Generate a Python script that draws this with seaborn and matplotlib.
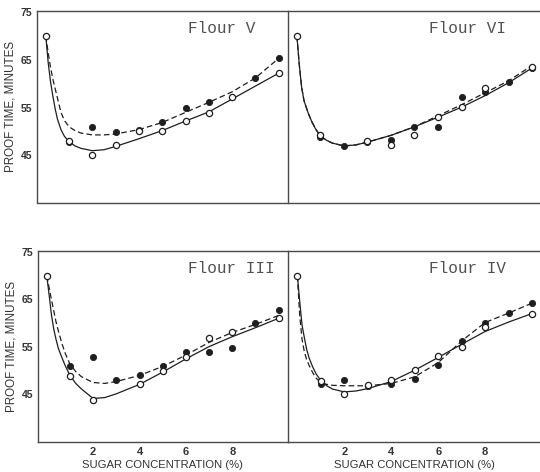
import matplotlib
matplotlib.use("Agg")
import matplotlib.pyplot as plt
import numpy as np
import pandas as pd
import seaborn as sns

sns.set_theme(style="white")
plt.rcParams["font.family"] = ["Liberation Sans", "DejaVu Sans"]

# Sugar concentration (%) at which the fitted curves are traced
CURVE_X = [0, 0.1, 0.2, 0.3, 0.4, 0.5, 0.65, 0.8, 1.0, 1.25, 1.5,
           2, 2.5, 3, 4, 5, 6, 7, 8, 9, 10]

# ---- Flour V ----
V_SOLID = [70, 64.5, 60.5, 57.5, 54.8, 52.6, 50.4, 49.0, 47.9, 47.0, 46.5,
           46.0, 46.2, 46.9, 48.5, 50.2, 52.2, 54.1, 56.8, 59.5, 62.2]
V_DASHED = [70, 66.5, 63.5, 61.0, 59.0, 57.0, 54.0, 52.3, 51.0, 50.2, 49.7,
            49.3, 49.3, 49.5, 50.4, 51.9, 54.0, 56.1, 58.3, 61.2, 65.3]
V_OPEN_X = [0, 1, 2, 3, 4, 5, 6, 7, 8, 10]
V_OPEN_Y = [70, 48.1, 45.0, 47.1, 50.1, 50.1, 52.2, 53.9, 57.2, 62.2]
V_FILLED_X = [1, 2, 3, 4, 5, 6, 7, 9, 10]
V_FILLED_Y = [47.8, 50.9, 50.0, 50.4, 51.9, 55.0, 56.2, 61.2, 65.3]

# ---- Flour VI ----
VI_SOLID = [70, 64.0, 59.3, 56.5, 55.0, 53.6, 51.9, 50.5, 49.1, 48.2, 47.6,
            47.0, 47.2, 47.8, 49.2, 51.0, 53.0, 55.1, 57.5, 60.2, 63.3]
VI_DASHED = [70, 64.0, 59.3, 56.5, 55.0, 53.6, 51.9, 50.5, 49.1, 48.2, 47.6,
             47.0, 47.2, 47.8, 49.2, 51.0, 53.3, 55.6, 58.1, 60.6, 63.8]
VI_OPEN_X = [0, 1, 3, 4, 5, 6, 7, 8, 10]
VI_OPEN_Y = [70, 49.2, 48.1, 47.1, 49.2, 53.1, 55.1, 59.1, 63.4]
VI_FILLED_X = [1, 2, 3, 4, 5, 6, 7, 8, 9, 10]
VI_FILLED_Y = [48.9, 46.9, 47.9, 48.3, 51.0, 51.0, 57.3, 58.2, 60.3, 63.2]

# ---- Flour III ----
III_SOLID = [70, 66.0, 61.8, 58.7, 56.5, 54.6, 52.7, 50.9, 48.9, 47.2, 46.0,
             44.0, 44.2, 45.0, 47.0, 49.6, 52.4, 55.0, 57.1, 59.0, 61.0]
III_DASHED = [70, 67.5, 65.0, 62.6, 60.2, 58.3, 55.7, 53.5, 51.3, 49.7, 48.6,
              47.4, 47.2, 47.6, 48.9, 50.8, 53.2, 55.9, 58.0, 59.7, 61.6]
III_OPEN_X = [0, 1, 2, 4, 5, 6, 7, 8, 10]
III_OPEN_Y = [70, 48.8, 43.7, 47.0, 49.9, 52.7, 56.9, 58.0, 61.0]
III_FILLED_X = [1, 2, 3, 4, 5, 6, 7, 8, 9, 10]
III_FILLED_Y = [50.9, 52.7, 47.9, 48.9, 50.8, 53.8, 53.8, 54.8, 59.9, 62.7]

# ---- Flour IV ----
IV_SOLID = [70, 64.5, 59.5, 56.8, 54.3, 52.6, 50.7, 49.2, 47.8, 46.7, 46.0,
            45.4, 45.6, 46.1, 47.6, 50.0, 52.7, 55.5, 58.2, 60.2, 62.0]
IV_DASHED = [70, 61.5, 56.5, 53.8, 52.2, 51.0, 49.5, 48.3, 47.4, 47.0, 46.8,
             46.7, 46.7, 46.7, 47.2, 48.6, 51.6, 56.2, 60.1, 62.1, 64.2]
IV_OPEN_X = [0, 1, 2, 3, 4, 5, 6, 7, 8, 10]
IV_OPEN_Y = [70, 47.8, 44.9, 46.9, 48.0, 50.1, 53.0, 55.0, 59.2, 62.0]
IV_FILLED_X = [1, 2, 3, 4, 5, 6, 7, 8, 9, 10]
IV_FILLED_Y = [47.0, 48.0, 46.7, 47.0, 48.1, 51.0, 56.1, 60.1, 62.1, 64.2]

X_TICKS = [2, 4, 6, 8]
Y_TICKS = [45, 55, 65, 75]
Y_LABEL = "PROOF TIME, MINUTES"
X_LABEL = "SUGAR CONCENTRATION (%)"

INK = "#1e1e1e"
FRAME = "#4a4a4a"
LABEL_INK = "#333333"
W, H = 540, 472

fig = plt.figure(figsize=(W / 100, H / 100), dpi=100)
fig.patch.set_facecolor("white")


def box(left, right, top, bottom):
    return [left / W, 1 - bottom / H, (right - left) / W, (bottom - top) / H]


def draw_panel(rect, ylim, title, title_x, solid, dashed,
               ox, oy, fx, fy, left_col, bottom_row):
    ax = fig.add_axes(rect)
    ax.set_facecolor("white")
    curves = pd.DataFrame({"x": CURVE_X, "solid": solid, "dashed": dashed})
    sns.lineplot(data=curves, x="x", y="dashed", ax=ax, color=INK,
                 linewidth=0.9, linestyle=(0, (4.5, 2.5)),
                 estimator=None, sort=False)
    sns.lineplot(data=curves, x="x", y="solid", ax=ax, color=INK,
                 linewidth=0.9, estimator=None, sort=False)
    sns.scatterplot(x=fx, y=fy, ax=ax, s=20, color=INK,
                    edgecolor=INK, linewidth=0.6, zorder=3)
    sns.scatterplot(x=ox, y=oy, ax=ax, s=20, facecolor="white",
                    edgecolor=INK, linewidth=0.9, zorder=4)
    ax.set_xlim(-0.4, 10.38)
    ax.set_ylim(*ylim)
    ax.set_xticks(X_TICKS)
    ax.set_yticks(Y_TICKS)
    ax.set_xlabel("")
    ax.set_ylabel("")
    for sp in ax.spines.values():
        sp.set_color(FRAME)
        sp.set_linewidth(1.0)
    ax.spines["right"].set_visible(False)
    ax.tick_params(axis="x", direction="in", length=3, width=0.8,
                   color=FRAME, labelsize=8, labelcolor=LABEL_INK, pad=4,
                   labelbottom=bottom_row)
    if left_col:
        ax.tick_params(axis="y", direction="out", length=2.5, width=0.8,
                       color=FRAME, labelsize=7.5, labelcolor=LABEL_INK,
                       pad=0.5)
        for lab in ax.get_yticklabels():
            lab.set_fontweight("bold")
        ax.set_ylabel(Y_LABEL, fontsize=8.4, color=LABEL_INK)
        ax.yaxis.set_label_coords(-0.078, 0.5)
    else:
        ax.tick_params(axis="y", direction="in", length=4, width=0.8,
                       color=FRAME, labelleft=False)
    for lab in ax.get_xticklabels():
        lab.set_fontweight("bold")
    ax.text(title_x, 71.6, title, family=["Liberation Mono", "DejaVu Sans Mono"],
            fontsize=11.5, color="#505050", ha="left", va="center")
    if bottom_row:
        ax.set_xlabel(X_LABEL, fontsize=8.1, color=LABEL_INK, labelpad=2)
    return ax


TOP_Y = (35.17, 75.2)
BOT_Y = (34.9, 75.35)

draw_panel(box(36.5, 287.5, 11, 202.5), TOP_Y, "Flour V", 6.1,
           V_SOLID, V_DASHED, V_OPEN_X, V_OPEN_Y, V_FILLED_X, V_FILLED_Y,
           True, False)
draw_panel(box(287.5, 541, 11, 202.5), TOP_Y, "Flour VI", 5.6,
           VI_SOLID, VI_DASHED, VI_OPEN_X, VI_OPEN_Y,
           VI_FILLED_X, VI_FILLED_Y, False, False)
draw_panel(box(37.5, 287.5, 250.5, 441.5), BOT_Y, "Flour III", 6.1,
           III_SOLID, III_DASHED, III_OPEN_X, III_OPEN_Y,
           III_FILLED_X, III_FILLED_Y, True, True)
draw_panel(box(288, 541, 250.5, 441.5), BOT_Y, "Flour IV", 5.6,
           IV_SOLID, IV_DASHED, IV_OPEN_X, IV_OPEN_Y,
           IV_FILLED_X, IV_FILLED_Y, False, True)

fig.savefig("out.png", dpi=100, facecolor="white")
